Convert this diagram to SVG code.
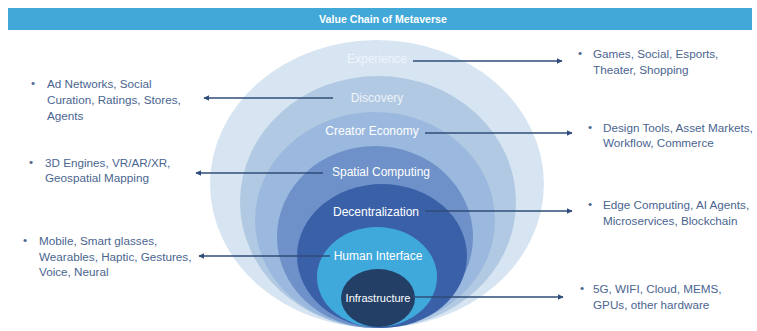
<svg xmlns="http://www.w3.org/2000/svg" width="757" height="331" viewBox="0 0 757 331">
<defs>
<marker id="ah" viewBox="0 0 10 10" refX="9" refY="5" markerWidth="6" markerHeight="6" markerUnits="userSpaceOnUse" orient="auto">
<path d="M0,0 L10,5 L0,10 z" fill="#2f4d78"/>
</marker>
<style>
.lbl{font-family:"Liberation Sans",Arial,sans-serif;font-size:12px;fill:#ffffff;text-anchor:middle}
.side{font-family:"Liberation Sans",Arial,sans-serif;font-size:11.7px;fill:#4a6590}
.con{stroke:#2f4d78;stroke-width:1.3;fill:none;marker-end:url(#ah)}
</style>
</defs>
<rect width="757" height="331" fill="#ffffff"/>
<g id="title">
<rect x="8" y="8" width="744" height="22" fill="#42a8d8"/>
<text x="383" y="23" font-family="'Liberation Sans',Arial,sans-serif" font-size="10.6" font-weight="bold" fill="#ffffff" text-anchor="middle">Value Chain of Metaverse</text>
</g>
<g id="experience">
<ellipse cx="377" cy="184" rx="167" ry="144" fill="#d7e5f2"/>
<text class="lbl" x="377" y="63" style="fill:#eef4fa">Experience</text>
</g>
<g id="discovery">
<ellipse cx="378" cy="202" rx="138" ry="126" fill="#b1c9e2"/>
<text class="lbl" x="377" y="102" style="fill:#eef4fa">Discovery</text>
</g>
<g id="creator-economy">
<ellipse cx="375" cy="220" rx="120" ry="108" fill="#9bb9de"/>
<text class="lbl" x="372" y="135">Creator Economy</text>
</g>
<g id="spatial-computing">
<ellipse cx="375" cy="237" rx="98" ry="91" fill="#6d91c8"/>
<text class="lbl" x="381" y="176">Spatial Computing</text>
</g>
<g id="decentralization">
<ellipse cx="382" cy="256" rx="85" ry="72" fill="#3a61a8"/>
<text class="lbl" x="376" y="216">Decentralization</text>
</g>
<g id="human-interface">
<ellipse cx="377" cy="277" rx="60" ry="50" fill="#40a9dc"/>
<text class="lbl" x="378" y="260">Human Interface</text>
</g>
<g id="infrastructure">
<ellipse cx="378" cy="298" rx="37" ry="29" fill="#233f66"/>
<text class="lbl" x="378" y="302" style="font-size:11px">Infrastructure</text>
</g>
<g id="connectors">
<line class="con" x1="413" y1="61" x2="562" y2="61"/>
<line class="con" x1="333" y1="98" x2="204" y2="98"/>
<line class="con" x1="425" y1="133" x2="572" y2="133"/>
<line class="con" x1="323" y1="173" x2="196" y2="173"/>
<line class="con" x1="425" y1="211" x2="572" y2="211"/>
<line class="con" x1="330" y1="256" x2="199" y2="256"/>
<line class="con" x1="413" y1="297" x2="563" y2="297"/>
</g>
<g id="desc-experience">
<text class="side" x="578" y="57">•</text>
<text class="side" x="593" y="58">Games, Social, Esports,</text>
<text class="side" x="593" y="74">Theater, Shopping</text>
</g>
<g id="desc-discovery">
<text class="side" x="31" y="87">•</text>
<text class="side" x="47" y="88">Ad Networks, Social</text>
<text class="side" x="47" y="104">Curation, Ratings, Stores,</text>
<text class="side" x="47" y="120">Agents</text>
</g>
<g id="desc-creator">
<text class="side" x="588" y="131">•</text>
<text class="side" x="603" y="132">Design Tools, Asset Markets,</text>
<text class="side" x="603" y="147">Workflow, Commerce</text>
</g>
<g id="desc-spatial">
<text class="side" x="29" y="166">•</text>
<text class="side" x="45" y="167">3D Engines, VR/AR/XR,</text>
<text class="side" x="45" y="182">Geospatial Mapping</text>
</g>
<g id="desc-decentral">
<text class="side" x="588" y="208">•</text>
<text class="side" x="603" y="209">Edge Computing, AI Agents,</text>
<text class="side" x="603" y="225">Microservices, Blockchain</text>
</g>
<g id="desc-human">
<text class="side" x="23" y="244">•</text>
<text class="side" x="39" y="245">Mobile, Smart glasses,</text>
<text class="side" x="39" y="261">Wearables, Haptic, Gestures,</text>
<text class="side" x="39" y="276">Voice, Neural</text>
</g>
<g id="desc-infra">
<text class="side" x="580" y="292">•</text>
<text class="side" x="593" y="293">5G, WIFI, Cloud, MEMS,</text>
<text class="side" x="593" y="309">GPUs, other hardware</text>
</g>
</svg>
